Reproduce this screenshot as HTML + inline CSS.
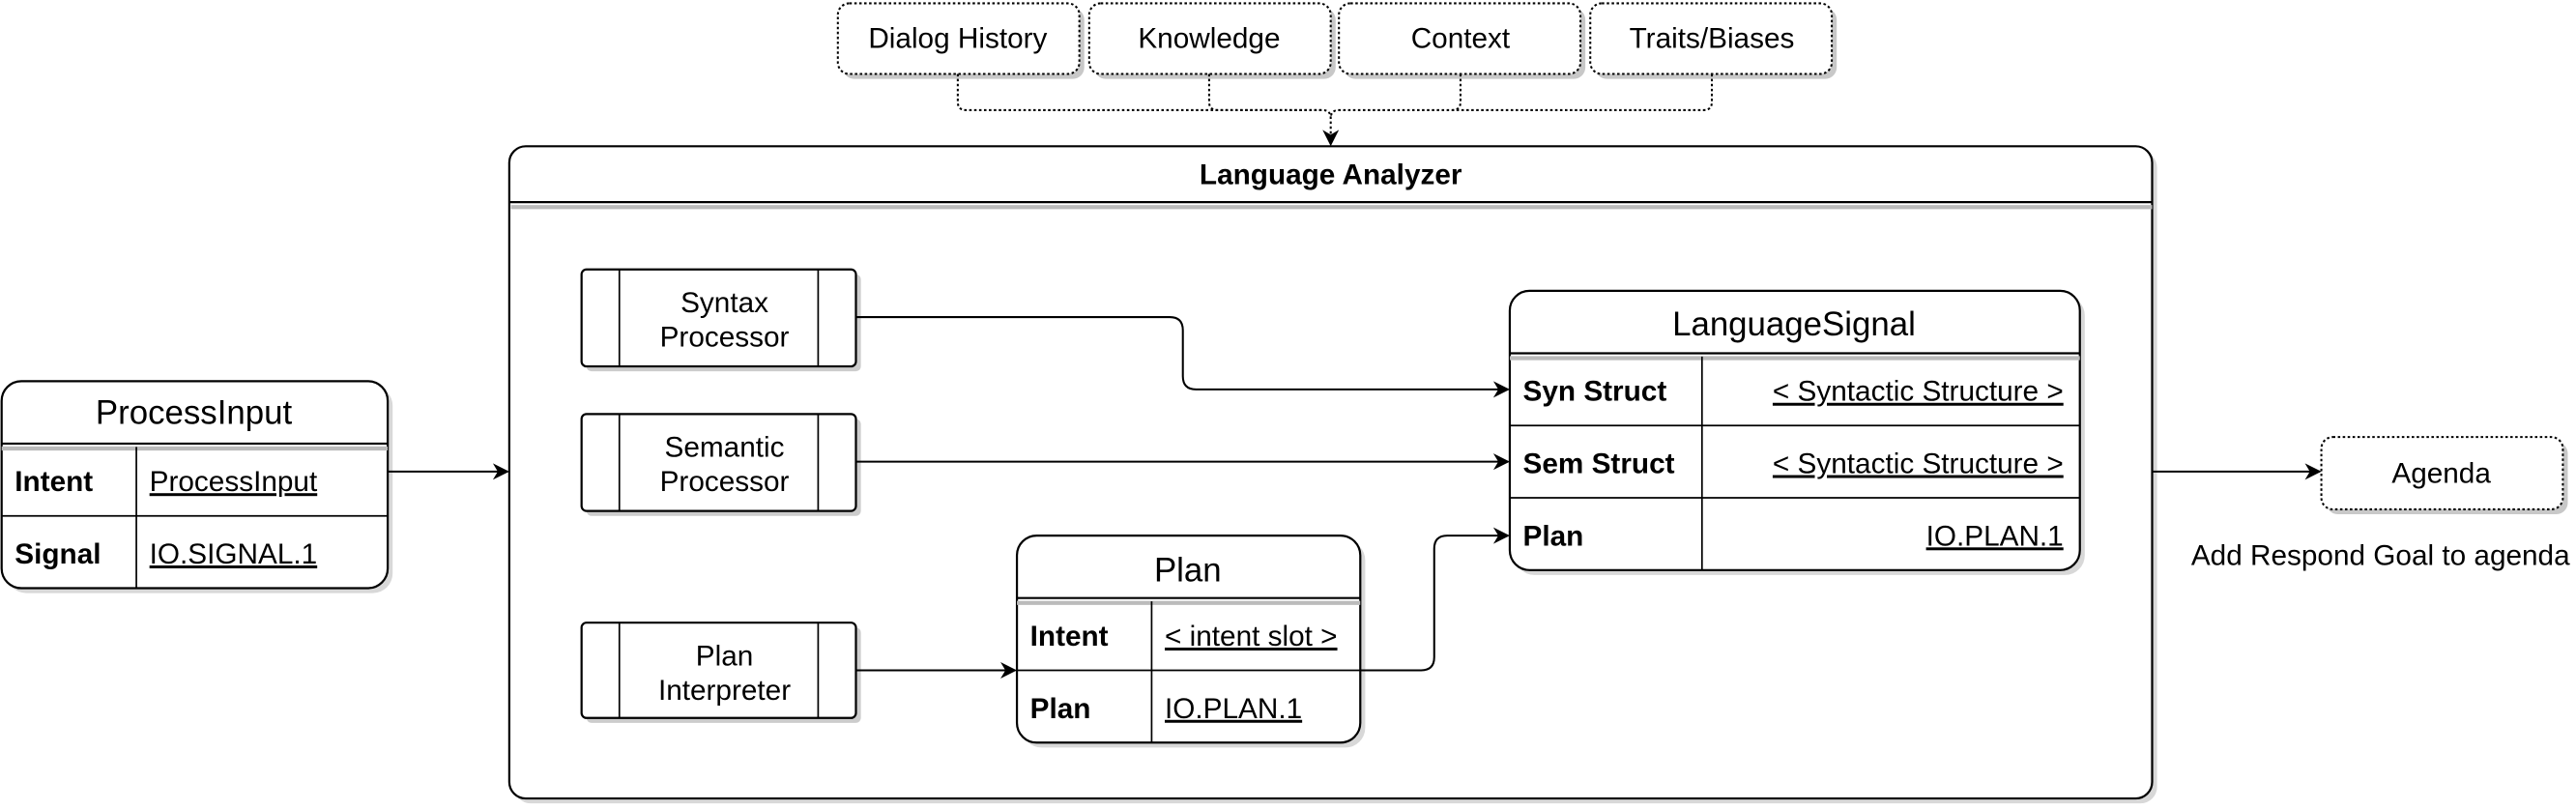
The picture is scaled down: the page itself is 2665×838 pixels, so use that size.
<!DOCTYPE html>
<html><head><meta charset="utf-8"><style>
html,body{margin:0;padding:0;background:#fff;}
svg{display:block;}
text{font-family:"Liberation Sans",Arial,sans-serif;fill:#000;}
</style></head><body>
<svg width="2665" height="838" viewBox="0 0 1568 493" xmlns="http://www.w3.org/2000/svg">
<defs>
<marker id="a" markerWidth="10" markerHeight="10" refX="9" refY="5" orient="auto" markerUnits="userSpaceOnUse">
<path d="M0,0 L10,5 L0,10 L3,5 Z" fill="#000"/></marker>
</defs>
<g fill="none" stroke="#000" stroke-width="1">
<g fill="#c8c8c8" stroke="none">
<rect x="513" y="5" width="147" height="43" rx="7"/>
<rect x="666" y="5" width="147" height="43" rx="7"/>
<rect x="818" y="5" width="147" height="43" rx="7"/>
<rect x="971" y="5" width="147" height="43" rx="7"/>
<rect x="1416" y="269" width="147" height="44" rx="7"/>
</g>
<g fill="#fff" stroke-dasharray="1.5,1.5" stroke-width="1.2">
<rect x="510" y="2" width="147" height="43" rx="7"/>
<rect x="663" y="2" width="147" height="43" rx="7"/>
<rect x="815" y="2" width="147" height="43" rx="7"/>
<rect x="968" y="2" width="147" height="43" rx="7"/>
<rect x="1413" y="266" width="147" height="44" rx="7"/>
</g>
<g stroke-dasharray="1.5,1.5" stroke-width="1.2">
<path d="M583,45 V62 Q583,67 588,67 H805 Q810,67 810,72 V88" marker-end="url(#a)"/>
<path d="M736,45 V62 Q736,67 741,67 H805"/>
<path d="M889,45 V62 Q889,67 884,67 H815 Q810,67 810,72"/>
<path d="M1042,45 V62 Q1042,67 1037,67 H884"/>
</g>
<rect x="313" y="92" width="1000" height="397" rx="10" fill="#d8d8d8" stroke="none"/>
<rect x="310" y="89" width="1000" height="397" rx="10" fill="#fff" stroke-width="1.3"/>
<line x1="310" y1="123" x2="1310" y2="123" stroke-width="1.3"/>
<line x1="311" y1="126" x2="1310" y2="126" stroke="#bbb" stroke-width="2.5"/>
<g>
<rect x="357" y="167" width="167" height="59" rx="3" fill="#ccc" stroke="none"/>
<rect x="354" y="164" width="167" height="59" rx="3" fill="#fff" stroke-width="1.3"/>
<path d="M377,164V223M498,164V223"/>
<rect x="357" y="255" width="167" height="59" rx="3" fill="#ccc" stroke="none"/>
<rect x="354" y="252" width="167" height="59" rx="3" fill="#fff" stroke-width="1.3"/>
<path d="M377,252V311M498,252V311"/>
<rect x="357" y="382" width="167" height="58" rx="3" fill="#ccc" stroke="none"/>
<rect x="354" y="379" width="167" height="58" rx="3" fill="#fff" stroke-width="1.3"/>
<path d="M377,379V437M498,379V437"/>
</g>
<rect x="4" y="235" width="235" height="126" rx="12" fill="#d8d8d8" stroke="none"/>
<rect x="1" y="232" width="235" height="126" rx="12" fill="#fff" stroke-width="1.3"/>
<line x1="1" y1="270" x2="236" y2="270" stroke-width="1.3"/>
<line x1="1" y1="273" x2="236" y2="273" stroke="#bbb" stroke-width="2.5"/>
<path d="M1,314H236M83,272V358"/>
<rect x="622" y="329" width="209" height="126" rx="12" fill="#d8d8d8" stroke="none"/>
<rect x="619" y="326" width="209" height="126" rx="12" fill="#fff" stroke-width="1.3"/>
<line x1="619" y1="364" x2="828" y2="364" stroke-width="1.3"/>
<line x1="619" y1="367" x2="828" y2="367" stroke="#bbb" stroke-width="2.5"/>
<path d="M619,408H828M701,366V452"/>
<rect x="922" y="180" width="347" height="170" rx="12" fill="#d8d8d8" stroke="none"/>
<rect x="919" y="177" width="347" height="170" rx="12" fill="#fff" stroke-width="1.3"/>
<line x1="919" y1="215" x2="1266" y2="215" stroke-width="1.3"/>
<line x1="919" y1="218" x2="1266" y2="218" stroke="#bbb" stroke-width="2.5"/>
<path d="M919,259H1266M919,303H1266M1036,217V347"/>
<g stroke-width="1.2">
<path d="M236,287H309" marker-end="url(#a)"/>
<path d="M521,193H712Q720,193 720,201V229Q720,237 728,237H918" marker-end="url(#a)"/>
<path d="M521,281H918" marker-end="url(#a)"/>
<path d="M521,408H618" marker-end="url(#a)"/>
<path d="M828,408H865Q873,408 873,400V334Q873,326 881,326H918" marker-end="url(#a)"/>
<path d="M1310,287H1412" marker-end="url(#a)"/>
</g>
</g>
<g font-size="17.5" text-anchor="middle">
<text x="583" y="29">Dialog History</text>
<text x="736" y="29">Knowledge</text>
<text x="889" y="29">Context</text>
<text x="1042" y="29">Traits/Biases</text>
<text x="1486" y="294">Agenda</text>
<text x="1449" y="344">Add Respond Goal to agenda</text>
<text x="810" y="112" font-weight="bold">Language Analyzer</text>
<text x="441" y="190">Syntax</text><text x="441" y="211">Processor</text>
<text x="441" y="278">Semantic</text><text x="441" y="299">Processor</text>
<text x="441" y="405">Plan</text><text x="441" y="426">Interpreter</text>
<text x="118" y="258" font-size="20.5">ProcessInput</text>
<text x="723" y="354" font-size="20.5">Plan</text>
<text x="1092" y="204" font-size="20.5">LanguageSignal</text>
</g>
<g font-size="17.5">
<text x="9" y="299" font-weight="bold">Intent</text>
<text x="91" y="299" text-decoration="underline">ProcessInput</text>
<text x="9" y="343" font-weight="bold">Signal</text>
<text x="91" y="343" text-decoration="underline">IO.SIGNAL.1</text>
<text x="627" y="393" font-weight="bold">Intent</text>
<text x="709" y="393" text-decoration="underline">&lt; intent slot &gt;</text>
<text x="627" y="437" font-weight="bold">Plan</text>
<text x="709" y="437" text-decoration="underline">IO.PLAN.1</text>
<text x="927" y="244" font-weight="bold">Syn Struct</text>
<text x="927" y="288" font-weight="bold">Sem Struct</text>
<text x="927" y="332" font-weight="bold">Plan</text>
<g text-anchor="end" text-decoration="underline">
<text x="1256" y="244">&lt; Syntactic Structure &gt;</text>
<text x="1256" y="288">&lt; Syntactic Structure &gt;</text>
<text x="1256" y="332">IO.PLAN.1</text>
</g>
</g>
</svg>
</body></html>
